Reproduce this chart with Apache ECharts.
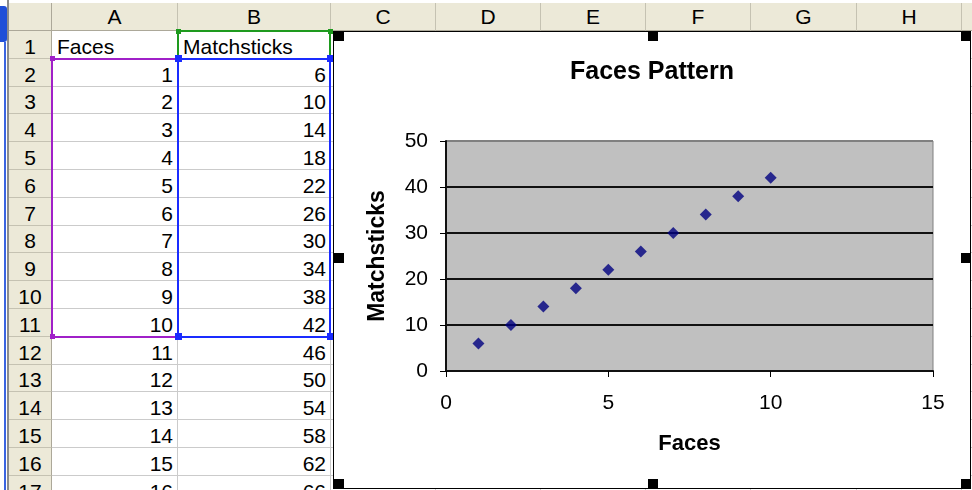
<!DOCTYPE html>
<html><head><meta charset="utf-8">
<script src="https://cdn.jsdelivr.net/npm/echarts@6/dist/echarts.min.js"></script>
<style>
html,body{margin:0;padding:0;width:972px;height:490px;overflow:hidden;background:#fff;font-family:"Liberation Sans",Arial,sans-serif;}
#sheet{position:absolute;left:0;top:0;width:972px;height:490px;overflow:hidden;}
.abs{position:absolute;box-sizing:border-box;}
#chart{position:absolute;left:333px;top:31px;width:638px;height:458px;border:1px solid #000;box-sizing:border-box;background:#fff;z-index:5;}
.hd{position:absolute;width:10px;height:10px;background:#000;z-index:6;}
</style></head><body>
<div id="sheet"></div>
<div id="chart"></div>
<script>
// ---- data ----
const columnLetters = ['A','B','C','D','E','F','G','H','I'];
const rowNumbers = [1,2,3,4,5,6,7,8,9,10,11,12,13,14,15,16,17];
const headerA = 'Faces';
const headerB = 'Matchsticks';
const faces = [1,2,3,4,5,6,7,8,9,10,11,12,13,14,15,16];
const matchsticks = [6,10,14,18,22,26,30,34,38,42,46,50,54,58,62,66];
const chartedRows = 10; // range A2:B11 is plotted
const chartTitle = 'Faces Pattern';
const xAxisName = 'Faces';
const yAxisName = 'Matchsticks';

// ---- layout ----
const FF = '"Liberation Sans", Arial, sans-serif';
const colEdges = [52,178,331,436,541,646,751,857,962,1070];
const HEAD_TOP = 3, ROW0 = 31, RH = 27.8;
const rowTop = i => ROW0 + RH * i;
const sheet = document.getElementById('sheet');
function box(l,t,w,h,css,text){
  const d=document.createElement('div');d.className='abs';
  d.style.left=l+'px';d.style.top=t+'px';d.style.width=w+'px';d.style.height=h+'px';
  if(css)d.style.cssText+=css;
  if(text!==undefined)d.textContent=text;
  sheet.appendChild(d);return d;
}
// left blue marker
box(0,6,7,36,'background:#1f4fd8;border-radius:0 3px 3px 0;');
box(4,42,2,450,'background:#3a64e0;');
box(7,0,2,490,'background:#8c8c8c;');
// corner header
box(9,HEAD_TOP,43,ROW0-HEAD_TOP,'background:#ece9d8;border-right:1px solid #aca899;border-bottom:1px solid #aca899;');
// column headers
for(let c=0;c<columnLetters.length;c++){
  const l=colEdges[c], w=colEdges[c+1]-colEdges[c];
  box(l,HEAD_TOP,w,ROW0-HEAD_TOP,'background:#ece9d8;border-right:1px solid #c5c2b2;border-bottom:1px solid #aca899;text-align:center;font-size:21px;line-height:28px;color:#000;',columnLetters[c]);
}
// row headers + gridlines
for(let r=0;r<rowNumbers.length;r++){
  const t=rowTop(r);
  box(9,t,43,RH,'background:#ece9d8;border-right:1px solid #aca899;border-bottom:1px solid #c5c2b2;text-align:center;font-size:21px;line-height:21px;padding-top:'+(RH-23)+'px;color:#000;',String(rowNumbers[r]));
  box(52,t+RH-1,920,1,'background:#cbcbcb;');
}
for(let c=1;c<colEdges.length-1;c++){ box(colEdges[c]-1,ROW0,1,460,'background:#cbcbcb;'); }
// cell texts
function cell(c,r,text,align){
  const l=colEdges[c], w=colEdges[c+1]-colEdges[c], t=rowTop(r);
  const pad = align==='left' ? 'padding-left:5px;' : 'padding-right:5px;';
  box(l,t+RH-23,w,21,'font-size:21px;line-height:21px;color:#000;white-space:nowrap;text-align:'+align+';'+pad,text);
}
cell(0,0,headerA,'left');
cell(1,0,headerB,'left');
for(let i=0;i<faces.length;i++){
  cell(0,i+1,String(faces[i]),'right');
  cell(1,i+1,String(matchsticks[i]),'right');
}
// selection rectangles
function sel(x0,y0,x1,y1,color,hs){
  box(x0-1,y0-1,x1-x0+2,y1-y0+2,'border:2px solid '+color+';');
  [[x0,y0],[x1,y0],[x0,y1],[x1,y1]].forEach(p=>box(p[0]-hs/2,p[1]-hs/2,hs,hs,'background:'+color+';'));
}
sel(colEdges[1],rowTop(0),colEdges[2]-1,rowTop(1),'#1e9a1e',5);
sel(colEdges[0],rowTop(1),colEdges[1],rowTop(chartedRows+1),'#a020c8',5);
sel(colEdges[1],rowTop(1),colEdges[2]-1,rowTop(chartedRows+1),'#1a2cff',7);

// chart handles
[[334,31],[648,31],[961,31],[334,253],[961,253],[334,479],[648,479],[961,479]].forEach(p=>{
  const h=document.createElement('div');h.className='hd';h.style.left=p[0]+'px';h.style.top=p[1]+'px';document.body.appendChild(h);
});

// ---- chart ----
const pts = faces.slice(0,chartedRows).map((f,i)=>[f,matchsticks[i]]);
const chart = echarts.init(document.getElementById('chart'));
chart.setOption({
  animation:false,
  title:{text:chartTitle,left:'center',top:28,padding:0,textStyle:{fontFamily:FF,fontSize:25,fontWeight:'bold',color:'#000'}},
  grid:{left:112,top:109,right:37,bottom:117,show:true,backgroundColor:'#c0c0c0',borderColor:'#808080',borderWidth:1,containLabel:false},
  xAxis:{type:'value',min:0,max:15,interval:5,name:xAxisName,nameLocation:'middle',nameGap:62,
    nameTextStyle:{fontFamily:FF,fontSize:22,fontWeight:'bold',color:'#000'},
    axisLine:{show:true,onZero:false,lineStyle:{color:'#111',width:2}},
    axisTick:{show:true,length:6,lineStyle:{color:'#000',width:1}},
    axisLabel:{margin:22,fontFamily:FF,fontSize:21,color:'#000'},
    splitLine:{show:false}},
  yAxis:{type:'value',min:0,max:50,interval:10,name:yAxisName,nameLocation:'middle',nameGap:57,
    nameTextStyle:{fontFamily:FF,fontSize:23,fontWeight:'bold',color:'#000'},
    axisLine:{show:true,lineStyle:{color:'#111',width:2}},
    axisTick:{show:true,length:6,lineStyle:{color:'#000',width:1}},
    axisLabel:{margin:18,fontFamily:FF,fontSize:21,color:'#000'},
    splitLine:{show:true,lineStyle:{color:['#111','#111','#111','#111','#111','#808080'],width:2}}},
  series:[{type:'scatter',data:pts,symbol:'diamond',symbolSize:12,itemStyle:{color:'#000080'}}]
});
</script>
</body></html>
